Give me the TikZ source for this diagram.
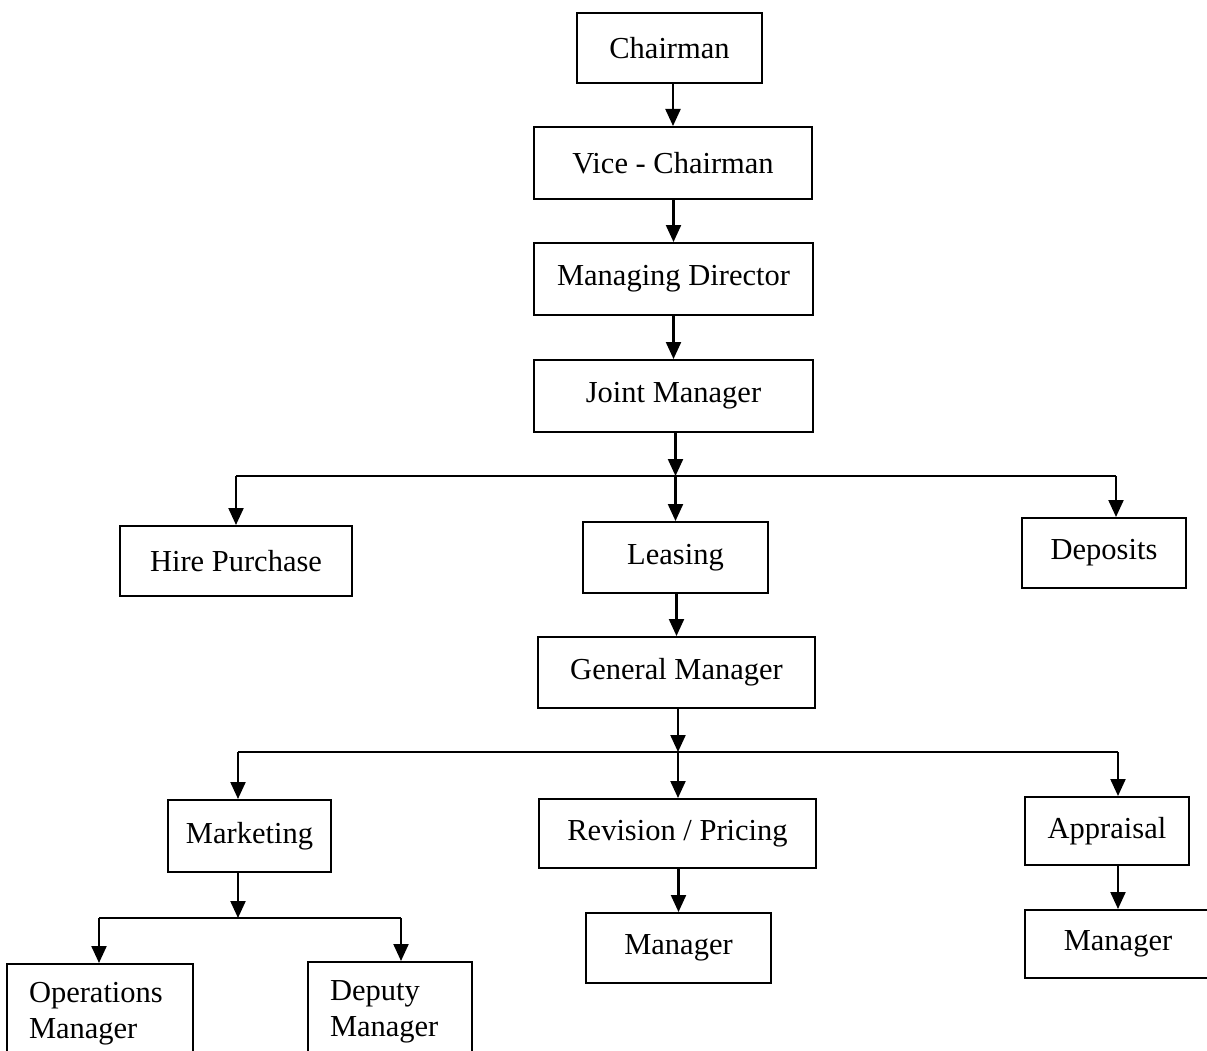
\documentclass[tikz,border=0pt]{standalone}
\usepackage{fontspec}
\setmainfont{Liberation Serif}
\usetikzlibrary{arrows.meta}
\begin{document}
\begin{tikzpicture}[x=1pt,y=-1pt,
  box/.style={draw, line width=2pt, rectangle, inner sep=0pt,
    font=\fontsize{30.5}{36}\selectfont},
  arr/.style={line width=2.2pt, -{Triangle[width=15pt,length=17pt]}},
  ln/.style={line width=2.2pt}]
\path[use as bounding box, clip] (0,0) rectangle (1207,1051);
\fill[white] (0,0) rectangle (1207,1051);
% boxes
\node[box, minimum width=185pt, minimum height=70pt] (chair) at (669.5,48) {Chairman};
\node[box, minimum width=278pt, minimum height=72pt] (vice) at (673,163) {Vice - Chairman};
\node[box, minimum width=279pt, minimum height=72pt] (md) at (673.5,279) {Managing Director};
\node[box, minimum width=279pt, minimum height=72pt] (jm) at (673.5,396) {Joint Manager};
\node[box, minimum width=232pt, minimum height=70pt] (hp) at (236,561) {Hire Purchase};
\node[box, minimum width=185pt, minimum height=71pt] (lease) at (675.5,557.5) {Leasing};
\node[box, minimum width=164pt, minimum height=70pt] (dep) at (1104,553) {Deposits};
\node[box, minimum width=277pt, minimum height=71pt] (gm) at (676.5,672.5) {General Manager};
\node[box, minimum width=163pt, minimum height=72pt] (mkt) at (249.5,836) {Marketing};
\node[box, minimum width=277pt, minimum height=69pt] (rev) at (677.5,833.5) {Revision / Pricing};
\node[box, minimum width=164pt, minimum height=68pt] (app) at (1107,831) {Appraisal};
\node[box, minimum width=185pt, minimum height=70pt] (mgra) at (678.5,948) {Manager};
\node[box, minimum width=186pt, minimum height=68pt] (mgrb) at (1118,944) {Manager};
\node[box, minimum width=186pt, minimum height=100pt, text width=142pt, align=left] (ops) at (100,1014) {Operations\\Manager};
\node[box, minimum width=164pt, minimum height=100pt, text width=120pt, align=left] (dpm) at (390,1012) {Deputy\\Manager};
% junction coordinates
\coordinate (j1) at (675.5,476);
\coordinate (j1l) at (236,476);
\coordinate (j1r) at (1116,476);
\coordinate (j2) at (678,752);
\coordinate (j2l) at (238,752);
\coordinate (j2r) at (1118,752);
\coordinate (j3) at (238,918);
\coordinate (j3l) at (99,918);
\coordinate (j3r) at (401,918);
% connectors
\draw[arr] (chair.south -| vice.north) -- (vice.north);
\draw[arr] (vice.south -| md.north) -- (md.north);
\draw[arr] (md.south -| jm.north) -- (jm.north);
\draw[arr] (jm.south -| j1) -- (j1);
\draw[ln] (j1l) -- (j1r);
\draw[arr] (j1l) -- (j1l |- hp.north);
\draw[arr] (j1) -- (j1 |- lease.north);
\draw[arr] (j1r) -- (j1r |- dep.north);
\draw[arr] (lease.south -| gm.north) -- (gm.north);
\draw[arr] (gm.south -| j2) -- (j2);
\draw[ln] (j2l) -- (j2r);
\draw[arr] (j2l) -- (j2l |- mkt.north);
\draw[arr] (j2) -- (j2 |- rev.north);
\draw[arr] (j2r) -- (j2r |- app.north);
\draw[arr] (rev.south -| mgra.north) -- (mgra.north);
\draw[arr] (app.south -| mgrb.north) -- (mgrb.north);
\draw[arr] (mkt.south -| j3) -- (j3);
\draw[ln] (j3l) -- (j3r);
\draw[arr] (j3l) -- (j3l |- ops.north);
\draw[arr] (j3r) -- (j3r |- dpm.north);
\end{tikzpicture}
\end{document}
